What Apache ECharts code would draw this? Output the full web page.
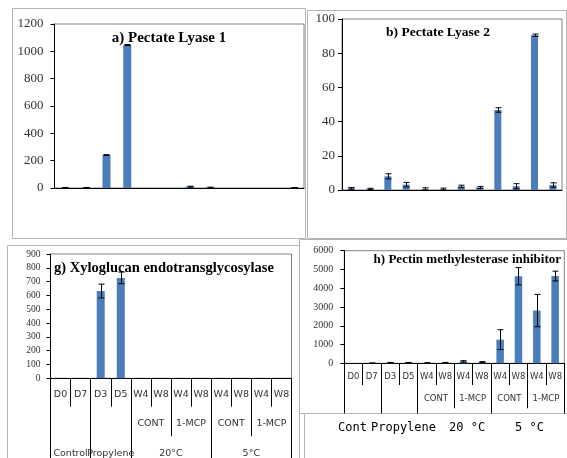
<!DOCTYPE html>
<html>
<head>
<meta charset="utf-8">
<script src="https://cdn.jsdelivr.net/npm/echarts@6/dist/echarts.min.js"></script>
<style>
  html, body { margin: 0; padding: 0; background: #fff; }
  #chart { width: 567px; height: 458px; }
</style>
</head>
<body>
<div id="chart"></div>
<script>
// categories of the 12 samples and the two grouping rows under them
const categories = ['D0', 'D7', 'D3', 'D5', 'W4', 'W8', 'W4', 'W8', 'W4', 'W8', 'W4', 'W8'];
const subGroups = ['', 'CONT', '1-MCP', 'CONT', '1-MCP'];
const subSpans = [4, 2, 2, 2, 2];
const mainGroups = ['Control', 'Propylene', '20°C', '5°C'];
const mainSpans = [2, 2, 4, 4];
const footerLabels = ['Cont', 'Propylene', '20 °C', '5 °C'];

// a) Pectate Lyase 1
const pl1Values = [2, 2, 241, 1046, 0, 0, 10, 3, 0, 0, 0, 2];
const pl1Errors = [2, 2, 3, 4, 0, 0, 3, 3, 0, 0, 0, 1];
const pl1Ticks = [0, 1200, 200];

// b) Pectate Lyase 2
const pl2Values = [1, 0.6, 8, 3.1, 0.5, 0.3, 2.1, 1.5, 46.8, 2.2, 90.5, 2.9];
const pl2Errors = [0.5, 0.4, 1.5, 1.3, 0.8, 0.8, 0.7, 0.6, 1.3, 1.5, 0.7, 1.3];
const pl2Ticks = [0, 100, 20];

// g) Xyloglucan endotransglycosylase
const xetValues = [0, 0, 632, 727, 0, 0, 0, 0, 0, 0, 0, 0];
const xetErrors = [0, 0, 50, 42, 0, 0, 0, 0, 0, 0, 0, 0];
const xetTicks = [0, 900, 100];

// h) Pectin methylesterase inhibitor
const pmeiValues = [5, 10, 30, 30, 20, 30, 100, 60, 1260, 4640, 2810, 4650];
const pmeiErrors = [0, 5, 15, 15, 10, 15, 40, 30, 530, 460, 860, 260];
const pmeiTicks = [0, 6000, 1000];

const titles = [
  'a) Pectate Lyase 1',
  'b) Pectate Lyase 2',
  'g) Xyloglucan endotransglycosylase',
  'h) Pectin methylesterase inhibitor'
];

const BAR = '#4a7ebb';
const SERIF = '"Liberation Serif", "Times New Roman", serif';
const SANS = '"DejaVu Sans", Verdana, sans-serif';
const MONO = '12px "DejaVu Sans Mono", monospace';

function edgesAndMids(spans) {
  let acc = 0;
  const edges = [0], mids = [];
  spans.forEach((s) => { mids.push(acc + s / 2); acc += s; edges.push(acc); });
  return { edges, mids };
}
const sub = edgesAndMids(subSpans);
const main = edgesAndMids(mainSpans);

function errorBar(params, api) {
  const e = api.value(2);
  if (!e) return;
  const x = api.value(0), v = api.value(1);
  const top = api.coord([x, v + e]);
  const bot = api.coord([x, Math.max(v - e, 0)]);
  const cx = Math.round(top[0]) + 0.5;
  const st = { stroke: '#000', lineWidth: 1 };
  return {
    type: 'group',
    children: [
      { type: 'line', shape: { x1: cx, y1: top[1], x2: cx, y2: bot[1] }, style: st },
      { type: 'line', shape: { x1: cx - 3, y1: top[1], x2: cx + 3, y2: top[1] }, style: st },
      { type: 'line', shape: { x1: cx - 3, y1: bot[1], x2: cx + 3, y2: bot[1] }, style: st }
    ]
  };
}

// grid boxes, in px
const grids = [
  { left: 54.5, top: 24, width: 249.5, height: 164 },
  { left: 342, top: 19, width: 220, height: 171 },
  { left: 50.5, top: 254, width: 241, height: 124.3 },
  { left: 344.3, top: 250.7, width: 220, height: 112.6 }
];

const panels = [
  { values: pl1Values, errors: pl1Errors, ticks: pl1Ticks, barWidth: 8, yFont: 13, yMargin: 11, rows: null },
  { values: pl2Values, errors: pl2Errors, ticks: pl2Ticks, barWidth: 7, yFont: 13, yMargin: 7, rows: null },
  { values: xetValues, errors: xetErrors, ticks: xetTicks, barWidth: 8, yFont: 9.5, yMargin: 10,
    rows: { font: 9.5, m1: 11, m2: 40, m3: 70, t1: 28.4, t2: 58, t3: 110, mainLabels: true } },
  { values: pmeiValues, errors: pmeiErrors, ticks: pmeiTicks, barWidth: 7.5, yFont: 10, yMargin: 11,
    rows: { font: 8.5, m1: 9, m2: 30.7, m3: 60, t1: 21.7, t2: 45, t3: 50, mainLabels: false } }
];

const xAxis = [], yAxis = [], series = [];

// an extra value axis 0..12 on the same grid, used only for a row of group labels and separators
function groupRow(k, r, tickAt, tickLen, labelAt, labels, mids, margin, showLabels) {
  return {
    type: 'value', gridIndex: k, position: 'bottom', min: 0, max: 12,
    axisLine: { show: false }, splitLine: { show: false },
    axisTick: { show: tickAt.length > 0, length: tickLen, customValues: tickAt, lineStyle: { color: '#000' } },
    axisLabel: {
      show: showLabels, customValues: labelAt, margin: margin, hideOverlap: false,
      showMinLabel: true, showMaxLabel: true,
      fontFamily: SANS, fontSize: r.font, color: '#333',
      formatter: (v) => labels[mids.indexOf(v)] || ''
    }
  };
}

panels.forEach((p, k) => {
  const r = p.rows;
  xAxis.push({
    type: 'category', gridIndex: k, position: 'bottom', data: categories,
    axisLine: { lineStyle: { color: '#000', width: 1 } },
    axisTick: r ? { show: true, length: r.t1, lineStyle: { color: '#000' } } : { show: false },
    axisLabel: r ? { show: true, interval: 0, margin: r.m1, fontFamily: SANS, fontSize: r.font, color: '#333' } : { show: false },
    splitLine: { show: false }
  });
  if (r) {
    // second label row: CONT / 1-MCP
    xAxis.push(groupRow(k, r, sub.edges.slice(1, -1), r.t2, sub.mids, subGroups, sub.mids, r.m2, true));
    // third row: treatment groups, split over two axes so the overlapping names both stay
    xAxis.push(groupRow(k, r, main.edges, r.t3, main.mids.filter((m, i) => i % 2 === 0), mainGroups, main.mids, r.m3, r.mainLabels));
    xAxis.push(groupRow(k, r, [], 0, main.mids.filter((m, i) => i % 2 === 1), mainGroups, main.mids, r.m3, r.mainLabels));
  }
  const xi = xAxis.findIndex((a) => a.gridIndex === k);
  yAxis.push({
    type: 'value', gridIndex: k, min: p.ticks[0], max: p.ticks[1], interval: p.ticks[2],
    axisLine: { show: true, lineStyle: { color: '#000' } },
    axisTick: { show: true, length: 4, lineStyle: { color: '#000' } },
    axisLabel: { margin: p.yMargin, fontFamily: SERIF, fontSize: p.yFont, color: '#333', formatter: (v) => String(v) },
    splitLine: { show: false }
  });
  series.push({
    type: 'bar', xAxisIndex: xi, yAxisIndex: k, data: p.values,
    barWidth: p.barWidth, itemStyle: { color: BAR }
  });
  series.push({
    type: 'custom', xAxisIndex: xi, yAxisIndex: k, renderItem: errorBar, z: 5,
    data: p.values.map((v, i) => [i, v, p.errors[i]])
  });
});

const frame = (x1, y1, x2, y2) => ({
  type: 'rect', z: -1, shape: { x: x1 + 0.5, y: y1 + 0.5, width: x2 - x1, height: y2 - y1 },
  style: { fill: null, stroke: '#b4b4b4', lineWidth: 1 }
});
const txt = (text, x, y, font, align) => ({
  type: 'text', x: x, y: y, z: 10,
  style: { text: text, font: font, fill: '#000', align: align, verticalAlign: 'middle', textAlign: align, textVerticalAlign: 'middle' }
});

const graphic = [
  frame(12, 8, 305, 238),
  frame(307, 10, 566, 238),
  frame(7, 245, 299, 470),
  frame(299, 239, 570, 413),
  { type: 'line', shape: { x1: 304.5, y1: 413, x2: 304.5, y2: 458 }, style: { stroke: '#b4b4b4', lineWidth: 1 } },
  txt(titles[0], 169, 38, 'bold 15px ' + SERIF, 'center'),
  txt(titles[1], 438, 33, 'bold 13.5px ' + SERIF, 'center'),
  txt(titles[2], 54, 268, 'bold 14.5px ' + SERIF, 'left'),
  txt(titles[3], 561, 260, 'bold 13px ' + SERIF, 'right'),
  txt(footerLabels[0], 338, 428, MONO, 'left'),
  txt(footerLabels[1], 371, 428, MONO, 'left'),
  txt(footerLabels[2], 449, 428, MONO, 'left'),
  txt(footerLabels[3], 515, 428, MONO, 'left')
];

const chart = echarts.init(document.getElementById('chart'));
chart.setOption({
  animation: false,
  backgroundColor: '#fff',
  grid: grids.map((g) => Object.assign({
    show: true, borderColor: '#808080', borderWidth: 1, backgroundColor: 'transparent',
    containLabel: false, outerBoundsMode: 'none'
  }, g)),
  xAxis: xAxis,
  yAxis: yAxis,
  series: series,
  graphic: { elements: graphic }
});
</script>
</body>
</html>
